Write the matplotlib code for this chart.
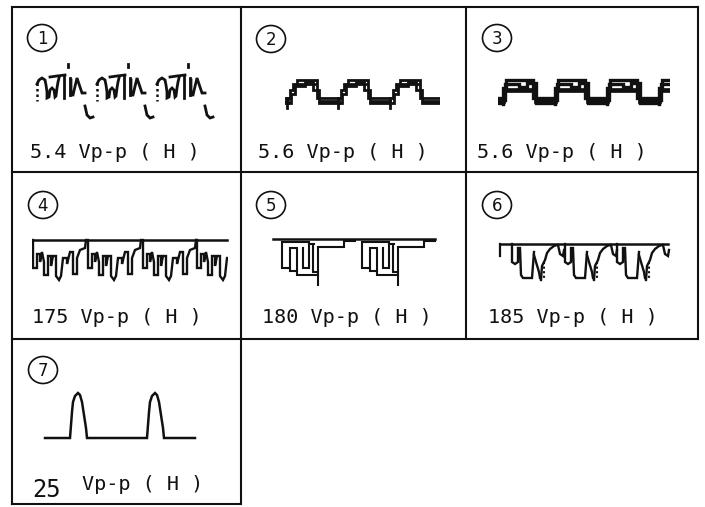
import matplotlib
matplotlib.use('Agg')
import matplotlib.pyplot as plt
from matplotlib.patches import Ellipse, Rectangle

# box grid, in pixels of the scanned sheet (y grows downwards)
col_edges = [12, 241, 466, 698]
row_edges = [7, 172, 339, 504]

labels = ['1', '2', '3', '4', '5', '6', '7']
circle_xy = [(42, 38), (271, 39), (497, 38), (43, 205), (271, 205), (497, 205), (43, 370)]
amp_text = ['5.4 Vp-p ( H )', '5.6 Vp-p ( H )', '5.6 Vp-p ( H )',
            '175 Vp-p ( H )', '180 Vp-p ( H )', '185 Vp-p ( H )']
text_xy = [(30, 158), (258, 158), (477, 158), (32, 323), (262, 323), (488, 323)]

# trace 1: one burst (x relative to burst start), repeated
p1_starts = [37, 97, 157]
p1_dotted = [[(0, 83), (0, 101)]]
p1_strokes = [
    [(0, 84), (2, 80), (5, 78), (8, 80), (9, 85), (10, 92), (10, 98), (12, 97), (13, 90),
     (15, 88), (17, 90), (18, 97), (19, 96), (20, 88), (21, 82), (22, 78)],
    [(13, 77), (20, 76), (28, 75)],
    [(27, 75), (27, 98)],
    [(33, 78), (33, 95)],
    [(34, 80), (34, 95), (36, 95), (40, 78), (45, 93), (48, 93)],
    [(31, 64), (31, 67)],
    [(48, 106), (50, 115), (53, 118), (56, 117)],
]

# trace 2
p2_starts = [236, 287, 338, 390]
p2_clip = (285, 440)
p2_strokes = [
    [(0, 108), (0, 98), (3, 98), (3, 90), (6, 90), (6, 84), (10, 84), (10, 80), (30, 80),
     (30, 98), (52, 98)],
    [(0, 103), (4, 103), (4, 94), (8, 94), (8, 86), (18, 86), (18, 82), (26, 82), (26, 90),
     (32, 90), (32, 101), (52, 101)],
    [(12, 84), (28, 84)],
    [(32, 103), (52, 103)],
]

# trace 3
p3_starts = [451, 503, 555, 607, 659]
p3_clip = (498, 670)
p3_strokes = [
    [(0, 104), (0, 88), (3, 88), (3, 80), (30, 80), (30, 98), (52, 98)],
    [(0, 100), (2, 100), (2, 84), (16, 84), (16, 87), (24, 87), (24, 83), (33, 83),
     (33, 103), (52, 103)],
    [(3, 90), (30, 90)],
    [(33, 101), (52, 101)],
]

# trace 4
p4_top = [(33, 240), (227, 240)]
p4_starts = [33, 88, 143, 197]
p4_clip = (32, 228)
p4_strokes = [
    [(0, 240), (0, 268), (4, 268), (4, 254), (7, 254), (7, 262), (9, 252), (11, 262), (11, 275),
     (15, 275), (15, 256), (18, 256), (18, 266), (20, 256), (23, 256), (23, 276), (26, 280),
     (28, 276), (30, 258), (34, 258), (34, 264), (37, 252), (40, 252), (40, 274), (44, 274),
     (44, 258), (47, 250), (52, 248), (53, 240)],
]

# trace 5
p5_top = [(273, 239), (435, 239)]
p5_starts = [282, 362]
p5_strokes = [
    [(0, 242), (0, 268), (8, 268), (8, 271), (15, 271), (15, 275), (36, 275)],
    [(0, 242), (27, 242), (27, 244), (32, 244)],
    [(8, 268), (8, 248), (15, 248), (15, 271)],
    [(21, 248), (21, 268), (27, 268), (27, 244)],
    [(31, 244), (31, 272), (36, 272)],
    [(36, 285), (36, 247), (62, 247), (62, 241), (73, 241)],
]

# trace 6
p6_top = [(500, 244), (668, 244)]
p6_edge = [(500, 256), (500, 244)]
p6_starts = [512, 565, 617]
p6_strokes = [
    [(0, 244), (0, 262), (3, 264), (6, 262), (6, 248), (8, 248), (9, 275), (11, 278),
     (20, 278), (21, 265), (22, 252)],
    [(22, 255), (24, 262), (27, 272), (28, 278)],
    [(29, 280), (30, 266), (33, 260), (35, 253), (38, 249), (42, 246), (45, 245)],
    [(46, 245), (48, 254), (51, 256), (52, 250)],
]
p6_dotted = [[(32, 262), (32, 278)]]

# trace 7: baseline with two pulses
p7_base = 438
p7_span = (45, 195)
p7_pulse_starts = [70, 147]
pulse_dx = [0, 1, 2, 3, 5, 8, 10, 12, 14, 16, 17]
pulse_y = [438, 425, 412, 402, 396, 393, 395, 402, 415, 428, 438]

INK = '#111111'
fig = plt.figure(figsize=(7.05, 5.07), dpi=100)
ax = fig.add_axes([0, 0, 1, 1])
ax.set_xlim(0, 705)
ax.set_ylim(507, 0)
ax.axis('off')


def line(pts, lw=1.6, clip=None, **kw):
    xs, ys = zip(*pts)
    ln, = ax.plot(xs, ys, color=INK, lw=lw, solid_joinstyle='miter', **kw)
    if clip is not None:
        r = Rectangle((clip[0], 0), clip[1] - clip[0], 507, transform=ax.transData)
        ln.set_clip_path(r)
    return ln


def repeat(starts, strokes, lw=1.6, clip=None, **kw):
    for x0 in starts:
        for s in strokes:
            line([(x0 + dx, y) for dx, y in s], lw=lw, clip=clip, **kw)


# borders
for y in row_edges[:3]:
    line([(col_edges[0], y), (col_edges[-1], y)], lw=1.5)
line([(col_edges[0], row_edges[3]), (col_edges[1], row_edges[3])], lw=1.5)
for x in col_edges[:2]:
    line([(x, row_edges[0]), (x, row_edges[3])], lw=1.5)
for x in col_edges[2:]:
    line([(x, row_edges[0]), (x, row_edges[2])], lw=1.5)

# numbered circles
for lab, (cx, cy) in zip(labels, circle_xy):
    ax.add_patch(Ellipse((cx, cy), 29, 27, fill=False, ec=INK, lw=1.2))
    ax.text(cx, cy + 1, lab, ha='center', va='center', fontsize=12,
            family='DejaVu Sans', color=INK)

# amplitude captions
for s, (tx, ty) in zip(amp_text, text_xy):
    ax.text(tx, ty, s, ha='left', va='baseline', fontsize=14.5,
            family='DejaVu Sans Mono', color=INK)
ax.text(32, 497, '25', ha='left', va='baseline', fontsize=17,
        family='DejaVu Sans Mono', color=INK)
ax.text(82, 490, 'Vp-p ( H )', ha='left', va='baseline', fontsize=14.5,
        family='DejaVu Sans Mono', color=INK)

# waveforms
repeat(p1_starts, p1_strokes, lw=2.0)
repeat(p1_starts, p1_dotted, lw=1.8, ls=(0, (1, 1.2)))
repeat(p2_starts, p2_strokes, lw=2.0, clip=p2_clip)
repeat(p3_starts, p3_strokes[:2], lw=2.4, clip=p3_clip)
repeat(p3_starts, p3_strokes[2:], lw=3.4, clip=p3_clip)
line(p4_top, lw=1.8)
repeat(p4_starts, p4_strokes, lw=1.7, clip=p4_clip)
line(p5_top, lw=1.8)
repeat(p5_starts, p5_strokes, lw=1.5)
line(p6_top, lw=1.8)
line(p6_edge, lw=1.6)
repeat(p6_starts, p6_strokes, lw=1.7)
repeat(p6_starts, p6_dotted, lw=1.5, ls=(0, (1, 1.2)))

pts = [(p7_span[0], p7_base)]
for x0 in p7_pulse_starts:
    pts += [(x0 + dx, y) for dx, y in zip(pulse_dx, pulse_y)]
pts.append((p7_span[1], p7_base))
line(pts, lw=1.8)

fig.savefig('out.png', dpi=100)
